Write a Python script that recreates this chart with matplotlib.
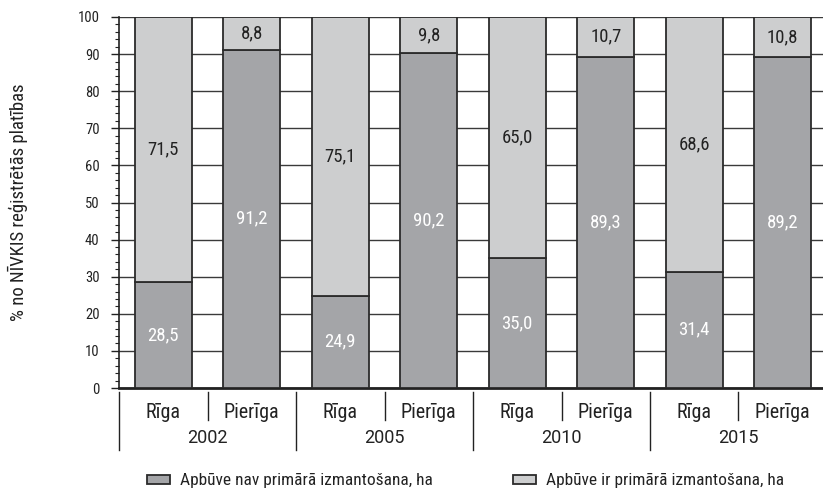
import matplotlib
matplotlib.use("Agg")
import matplotlib.pyplot as plt
from matplotlib.transforms import blended_transform_factory
from matplotlib.ticker import MultipleLocator
from matplotlib import font_manager

# pick the narrowest sans family that is installed
installed = {f.name for f in font_manager.fontManager.ttflist}
family = next((f for f in ["Roboto Condensed", "Open Sans Condensed",
                           "Liberation Sans Narrow", "Roboto",
                           "Liberation Sans"] if f in installed), "DejaVu Sans")
wide_family = "Roboto" if "Roboto" in installed else "DejaVu Sans"
plt.rcParams['font.family'] = [family, 'DejaVu Sans']

# Data
years = ["2002", "2005", "2010", "2015"]
regions = ["Rīga", "Pierīga"]
not_primary = [28.5, 91.2, 24.9, 90.2, 35.0, 89.3, 31.4, 89.2]
primary = [71.5, 8.8, 75.1, 9.8, 65.0, 10.7, 68.6, 10.8]
series_labels = ["Apbūve nav primārā izmantošana, ha",
                 "Apbūve ir primārā izmantošana, ha"]

dark = "#a4a5a8"
light = "#cdcecf"
edge = "#2b2b2b"
ink = "#222222"

W, H = 823, 497
fig = plt.figure(figsize=(W / 100, H / 100), dpi=100)
ax = fig.add_axes([119 / W, 109 / H, 708 / W, 371 / H])

x = list(range(len(not_primary)))
b1 = ax.bar(x, not_primary, width=0.645, color=dark, edgecolor=edge,
            linewidth=1.3, zorder=3)
b2 = ax.bar(x, primary, width=0.645, bottom=not_primary, color=light,
            edgecolor=edge, linewidth=1.3, zorder=3)

# value labels
for xi, lo, hi in zip(x, not_primary, primary):
    ax.text(xi, lo / 2, f"{lo:.1f}".replace(".", ","), ha="center",
            va="center", color="white", fontsize=13.5, zorder=4)
    ax.text(xi, lo + hi / 2, f"{hi:.1f}".replace(".", ","), ha="center",
            va="center", color=ink, fontsize=13.5, zorder=4)

ax.set_xlim(-0.5, len(x) - 0.5)
ax.set_ylim(0, 100)
ax.yaxis.set_major_locator(MultipleLocator(10))
ax.yaxis.set_minor_locator(MultipleLocator(2))
ax.grid(axis="y", which="major", color="#3a3a3a", linewidth=1.0, zorder=0)
ax.set_axisbelow(True)

for s in ("top", "right"):
    ax.spines[s].set_visible(False)
ax.spines["left"].set_color(ink)
ax.spines["left"].set_linewidth(1.2)
ax.spines["bottom"].set_color(ink)
ax.spines["bottom"].set_linewidth(2.0)

ax.tick_params(axis="y", which="major", length=6, width=1.0, labelsize=10.5,
               colors=ink, pad=8)
ax.tick_params(axis="y", which="minor", length=3, width=0.8, colors=ink)
ax.tick_params(axis="x", which="both", length=0, labelbottom=False)

ax.set_ylabel("% no NĪVKIS reģistrētās platības", fontsize=13.5, color=ink)
ax.yaxis.set_label_coords(-0.128, 0.5)

# two-level category axis
tr = blended_transform_factory(ax.transData, ax.transAxes)
ax_h = 371.0
for i in range(len(x) + 1):
    bx = i - 0.5
    y1 = -62 / ax_h if i % 2 == 0 else -32 / ax_h
    ax.plot([bx, bx], [-4 / ax_h, y1], transform=tr, color=ink,
            linewidth=1.0, clip_on=False)

for i, xi in enumerate(x):
    ax.text(xi, -25 / ax_h, regions[i % 2], transform=tr, ha="center",
            va="center", fontsize=14.5, color=ink)
for j, yr in enumerate(years):
    ax.text(2 * j + 0.5, -50 / ax_h, yr, transform=tr, ha="center",
            va="center", fontsize=13, color=ink, family=wide_family)

# legend entries
for handle, label, lx in [(b1, series_labels[0], 147), (b2, series_labels[1], 513)]:
    leg = fig.legend([handle], [label], loc="center left",
                     bbox_to_anchor=(lx / W, 16 / H), frameon=False,
                     fontsize=12.5, handlelength=1.3, handleheight=0.45,
                     handletextpad=0.6, borderpad=0, borderaxespad=0)
    for t in leg.get_texts():
        t.set_color(ink)

fig.savefig("out.png", dpi=100)
